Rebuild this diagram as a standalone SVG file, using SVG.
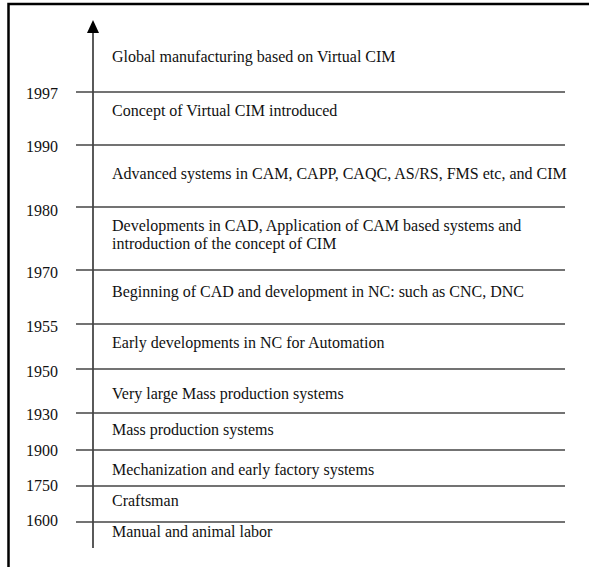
<svg xmlns="http://www.w3.org/2000/svg" width="589" height="567" viewBox="0 0 589 567">
<defs>
<style>
text{font-family:"Liberation Serif","Times New Roman",serif;font-size:16px;fill:#111}
.div{stroke:#444;stroke-width:1.3}
</style>
</defs>
<rect width="589" height="567" fill="#fff"/>
<path d="M8.5,567 V4 H589" fill="none" stroke="#000" stroke-width="2.5"/>
<g id="connectors">
<line x1="93" y1="548" x2="93" y2="22" stroke="#000" stroke-width="1.3"/>
<path d="M87,33 L93,20 L99,33 Z" fill="#000"/>
<line class="div" x1="76" y1="92" x2="565" y2="92"/>
<line class="div" x1="76" y1="145" x2="565" y2="145"/>
<line class="div" x1="76" y1="207" x2="565" y2="207"/>
<line class="div" x1="76" y1="270" x2="565" y2="270"/>
<line class="div" x1="76" y1="324" x2="565" y2="324"/>
<line class="div" x1="76" y1="369" x2="565" y2="369"/>
<line class="div" x1="76" y1="413" x2="565" y2="413"/>
<line class="div" x1="76" y1="450" x2="565" y2="450"/>
<line class="div" x1="76" y1="486" x2="565" y2="486"/>
<line class="div" x1="76" y1="522" x2="565" y2="522"/>
</g>
<g id="years">
<text x="26" y="99">1997</text>
<text x="26" y="152">1990</text>
<text x="26" y="216">1980</text>
<text x="26" y="278">1970</text>
<text x="26" y="332">1955</text>
<text x="26" y="377">1950</text>
<text x="26" y="420">1930</text>
<text x="26" y="456">1900</text>
<text x="26" y="491">1750</text>
<text x="26" y="526">1600</text>
</g>
<g id="n1"><text x="112" y="62">Global manufacturing based on Virtual CIM</text></g>
<g id="n2"><text x="112" y="116">Concept of Virtual CIM introduced</text></g>
<g id="n3"><text x="112" y="179">Advanced systems in CAM, CAPP, CAQC, AS/RS, FMS etc, and CIM</text></g>
<g id="n4"><text x="112" y="231">Developments in CAD, Application of CAM based systems and</text><text x="112" y="249">introduction of the concept of CIM</text></g>
<g id="n5"><text x="112" y="297">Beginning of CAD and development in NC: such as CNC, DNC</text></g>
<g id="n6"><text x="112" y="348">Early developments in NC for Automation</text></g>
<g id="n7"><text x="112" y="399">Very large Mass production systems</text></g>
<g id="n8"><text x="112" y="435">Mass production systems</text></g>
<g id="n9"><text x="112" y="475">Mechanization and early factory systems</text></g>
<g id="n10"><text x="112" y="506">Craftsman</text></g>
<g id="n11"><text x="112" y="537">Manual and animal labor</text></g>
</svg>
